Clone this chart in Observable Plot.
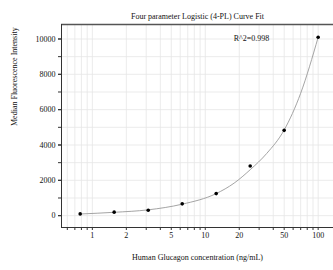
<!DOCTYPE html>
<html><head><meta charset="utf-8">
<script src="https://cdn.jsdelivr.net/npm/d3@7"></script>
<script src="https://cdn.jsdelivr.net/npm/@observablehq/plot@0.6"></script>
<style>body{margin:0;background:#fff} svg{display:block}</style>
</head><body><div id="chart"></div>
<script>
// Data
const conc = [0.78, 1.56, 3.125, 6.25, 12.5, 25, 50, 100];
const mfi = [100, 200, 310, 670, 1250, 2810, 4830, 10100];
// Fitted 4-PL curve
const fitConc = [0.78, 1.56, 3.125, 6.25, 12.5, 18, 25, 35, 50, 70, 100];
const fitMfi = [95, 190, 330, 650, 1250, 1840, 2600, 3520, 4850, 6930, 10100];
// Axes
const xTicks = [0.6, 0.7, 0.8, 0.9, 1, 2, 3, 4, 5, 6, 7, 8, 9, 10, 20, 30, 40, 50, 60, 70, 80, 90, 100];
const xLabels = [1, 2, 5, 10, 20, 50, 100];
const yTicks = [0, 1000, 2000, 3000, 4000, 5000, 6000, 7000, 8000, 9000, 10000];
const yLabels = [0, 2000, 4000, 6000, 8000, 10000];
const xDomain = [0.533, 136.7];
const yDomain = [-670, 10820];
const title = "Four parameter Logistic (4-PL) Curve Fit";
const xTitle = "Human Glucagon concentration (ng/mL)";
const yTitle = "Median Fluorescence Intensity";
const r2Label = "R^2=0.998";

const points = conc.map((c, i) => ({c, v: mfi[i]}));
const fit = fitConc.map((c, i) => ({c, v: fitMfi[i]}));
const axisColor = "#333";
const textColor = "#111";

const chart = Plot.plot({
  width: 333, height: 270,
  marginLeft: 61, marginRight: 0, marginTop: 24, marginBottom: 43,
  style: {fontFamily: "'Liberation Serif', 'Times New Roman', serif", fontSize: "8px", color: textColor, background: "#fff"},
  x: {type: "log", domain: xDomain},
  y: {domain: yDomain},
  marks: [
    Plot.gridX(xTicks, {stroke: "#e6e6e6", strokeOpacity: 1, strokeWidth: 0.8}),
    Plot.gridY(yTicks, {stroke: "#e6e6e6", strokeOpacity: 1, strokeWidth: 0.8}),
    Plot.ruleY([yDomain[1]], {stroke: "#555", strokeWidth: 1.5}),
    Plot.ruleY([yDomain[0]], {stroke: axisColor, strokeWidth: 1}),
    Plot.ruleX([xDomain[0]], {stroke: axisColor, strokeWidth: 1}),
    Plot.axisX(xTicks, {tickSize: 3, stroke: axisColor, tickFormat: () => "", label: null}),
    Plot.text(xLabels, {x: d => d, text: d => String(d), frameAnchor: "bottom", dy: 10, fontSize: 8, fill: textColor}),
    Plot.axisY(yTicks, {tickSize: 3, stroke: axisColor, tickFormat: () => "", label: null}),
    Plot.axisY(yLabels, {tickSize: 3, tickPadding: 3, stroke: axisColor, fill: textColor,
      tickFormat: d => String(d), label: null}),
    Plot.line(fit, {x: "c", y: "v", stroke: "#9a9a9a", strokeWidth: 0.9, curve: "monotone-x"}),
    Plot.dot(points, {x: "c", y: "v", r: 1.8, fill: "#000", stroke: null}),
    Plot.text([r2Label], {text: d => d, frameAnchor: "top", dx: 54, dy: 11, fontSize: 8, fill: textColor}),
    Plot.text([title], {text: d => d, frameAnchor: "top", dy: -11, fontSize: 8, fill: textColor}),
    Plot.text([xTitle], {text: d => d, frameAnchor: "bottom", dy: 32, fontSize: 8, fill: textColor}),
    Plot.text([yTitle], {text: d => d, frameAnchor: "left", dx: -47, rotate: -90, fontSize: 8, fill: textColor})
  ]
});
document.getElementById("chart").append(chart);
</script>
</body></html>
